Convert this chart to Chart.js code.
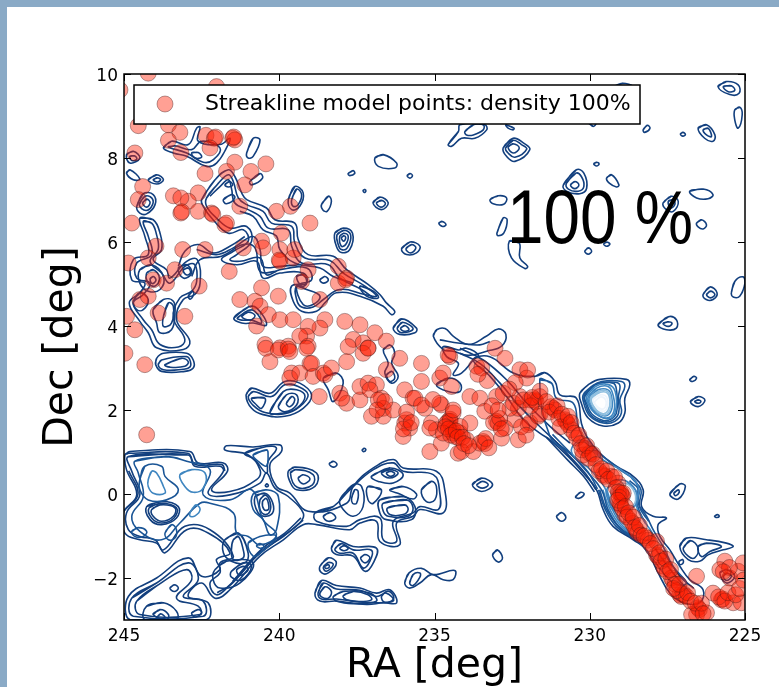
<!DOCTYPE html>
<html>
<head>
<meta charset="utf-8">
<title>Streakline model points</title>
<script src="https://cdn.jsdelivr.net/npm/chart.js@4"></script>
<style>
	html, body { margin: 0; padding: 0; background: #8aaac6; overflow: hidden; }
	#page { position: absolute; left: 7px; top: 7px; width: 772px; height: 680px; background: #fff; }
	#wrap { position: absolute; left: 0; top: 0; width: 779px; height: 687px; }
</style>
</head>
<body>
<div id="page"></div>
<div id="wrap"><canvas id="sky_chart" width="779" height="687"></canvas></div>
<script>
const ra_ticks = [245, 240, 235, 230, 225];
const dec_ticks = [-2, 0, 2, 4, 6, 8, 10];
const legend_label = "Streakline model points: density 100%";
const density_label = "100 %";
const x_title = "RA [deg]";
const y_title = "Dec [deg]";

// streakline model points, [RA, Dec]
const model_points = [
	[242.02,9.70],[244.22,10.02],[244.54,8.77],[243.57,8.79],[243.20,8.61],[243.57,8.42],[243.17,8.13],[242.36,8.54],[242.09,8.47],[242.05,8.50],
	[241.50,8.47],[241.43,8.43],[241.47,8.50],[242.23,8.24],[244.65,8.12],[241.43,7.90],[240.43,7.86],[242.39,7.63],[241.70,7.68],[240.91,7.68],
	[241.11,7.36],[244.40,7.32],[244.54,7.01],[243.41,7.10],[242.61,7.17],[242.93,6.97],[243.17,7.05],[243.17,6.69],[243.14,6.72],[242.61,6.73],
	[242.18,6.69],[242.14,6.66],[241.75,6.41],[241.70,6.45],[244.75,6.45],[241.27,6.85],[240.09,6.73],[239.64,6.85],[239.01,6.45],[239.93,6.21],
	[240.57,6.02],[243.11,5.82],[242.39,5.82],[243.97,5.90],[244.22,5.62],[244.86,5.50],[244.06,5.10],[243.36,5.34],[241.16,5.86],[239.98,5.82],
	[239.98,5.54],[240.00,5.57],[239.55,5.62],[239.50,5.82],[240.52,5.86],[241.61,5.30],[243.63,5.02],[242.58,4.95],[239.07,5.34],[239.28,5.06],
	[238.10,5.42],[238.10,5.02],[237.83,5.14],[237.86,5.10],[238.69,4.63],[240.57,4.91],[240.03,4.71],[241.27,4.63],[240.78,4.59],[240.62,4.47],
	[240.35,4.27],[239.98,4.15],[239.55,4.15],[240.73,4.00],[238.53,4.15],[238.69,3.95],[239.07,3.99],[239.12,3.76],[239.34,3.76],[237.89,4.11],
	[237.40,4.03],[236.92,3.84],[236.55,3.64],[243.04,4.23],[243.90,4.31],[244.49,4.63],[244.22,4.71],[244.92,4.23],[244.65,3.91],[240.46,3.56],
	[239.71,3.52],[239.98,3.48],[237.62,3.68],[237.30,3.60],[237.14,3.48],[239.07,3.52],[245.13,9.62],
	[244.97,3.35],[244.33,3.08],[244.27,1.41],[240.43,3.47],[240.30,3.15],[240.03,3.43],[239.71,3.45],[239.66,3.39],[239.12,3.47],[239.01,3.11],
	[238.96,3.11],[239.60,2.88],[239.66,2.76],[239.34,2.88],[238.91,2.80],[238.58,2.88],[238.53,2.84],[238.32,3.00],[238.71,2.32],[238.05,2.40],
	[237.83,2.16],[237.99,2.28],[237.40,2.24],[237.40,2.56],[237.14,2.64],[236.87,2.60],[237.08,2.48],[237.03,1.85],[236.71,2.28],[236.65,2.04],
	[236.65,1.85],[236.81,2.24],[236.33,2.00],[235.96,2.48],[235.69,2.28],[235.63,2.28],[235.42,3.11],[235.42,2.68],[234.83,2.76],[234.78,2.12],
	[235.31,2.04],[235.42,2.12],[235.96,1.69],[235.80,1.57],[236.01,1.37],[235.90,1.77],[235.10,1.69],[235.15,1.01],[234.78,1.21],[234.56,1.73],
	[234.50,1.78],[234.62,1.68],[234.40,1.93],[234.40,1.53],[234.51,3.27],[234.35,1.37],[234.24,0.97],[237.78,3.51],[237.30,3.35],[237.83,3.15],
	[237.14,3.47],[236.55,2.96],[236.12,3.23],[234.94,1.53],[235.15,1.57],
	[234.56,3.31],[234.72,2.88],[234.45,2.56],[233.86,2.32],[233.54,2.28],[233.05,3.47],[232.73,3.23],[233.64,3.04],[233.48,3.00],[232.25,2.96],
	[232.03,2.76],[233.00,2.32],[232.79,2.40],[233.00,1.73],[232.95,1.69],[232.73,1.57],[233.38,1.97],[232.41,1.77],[234.50,1.73],[234.72,1.45],
	[234.40,1.45],[234.18,1.45],[233.97,1.29],[234.13,1.01],[233.75,1.01],[233.43,1.25],[233.38,1.20],[233.54,1.21],[232.84,1.33],[232.30,1.29],
	[231.98,1.65],[231.93,1.70],[231.77,2.24],[231.73,2.20],[231.93,2.24],[232.30,2.04],[232.57,2.04],[231.66,1.85],[231.60,1.90],[231.18,2.04],
	[231.12,2.00],[231.25,2.08],[230.80,1.77],[230.75,1.72],[230.59,1.53],[230.69,1.65],[230.42,1.33],[230.16,1.09],[230.21,0.93],[230.00,0.97],
	[229.84,0.85],[229.57,0.46],[229.52,0.42],[229.30,0.42],[229.09,0.26],[228.98,-0.02],[228.95,-0.05],[229.00,0.03],[229.03,-0.22],[229.00,-0.27],
	[228.87,-0.49],[228.66,-0.65],[228.62,-0.70],[228.50,-0.85],[228.46,-0.92],[228.17,-1.05],[228.12,-1.10],[227.85,-1.13],[227.85,-1.45],[227.80,-1.50],
	[227.63,-1.72],[227.60,-1.78],[227.37,-2.00],[227.33,-2.05],[227.10,-2.40],[227.05,-2.44],[226.98,-2.38],[226.89,-2.44],[226.51,-2.71],[226.47,-2.75],
	[226.56,-2.87],[226.24,-2.83],[226.72,-2.87],[225.76,-2.52],[225.72,-2.50],[226.03,-2.36],[225.38,-2.59],[225.12,-2.59],[225.65,-1.60],[225.81,-1.80],
	[225.49,-2.00],[225.22,-1.84],[225.06,-1.64],[226.56,-1.96],[234.40,2.00],[234.83,2.16],[233.86,1.69],[234.18,1.61],[232.46,2.16],[232.25,2.32],
	[232.14,2.24],[231.61,2.32],
	[231.90,2.10],[231.85,2.30],[231.60,2.45],[231.40,2.20],[231.30,1.95],[231.05,2.10],[231.00,1.80],[230.90,1.90],[230.95,1.60],[230.70,1.85],
	[230.60,1.70],[230.50,1.45],[230.35,1.40],[230.30,1.20],[230.25,1.05],[230.10,1.15],[230.05,0.85],[229.90,0.95],[229.80,0.70],[229.70,0.55],
	[229.62,0.60],[229.45,0.55],[229.40,0.35],[229.20,0.40],[229.15,0.15],[229.08,0.05],[229.05,-0.08],[228.92,0.02],[229.10,-0.15],[228.95,-0.35],
	[228.85,-0.30],[228.80,-0.55],[228.75,-0.45],[228.60,-0.55],[228.55,-0.80],[228.40,-0.75],[228.35,-0.98],[228.25,-1.00],[228.05,-1.18],[227.95,-1.30],
	[227.75,-1.40],[227.70,-1.60],[227.55,-1.55],[227.50,-1.85],[227.40,-1.80],[227.25,-2.15],[227.20,-2.30],[227.30,-2.25],[227.12,-2.15],[226.85,-2.35],
	[226.75,-2.55],[226.60,-2.60],[226.40,-2.60],[226.35,-2.85],[225.85,-2.45],[225.65,-2.55],[225.55,-2.35],[225.30,-2.40],[225.18,-2.25],[225.05,-2.05],
	[225.50,-1.75],[225.70,-1.85],[234.65,1.60],[234.55,1.55],[234.48,1.40],[234.30,1.50],[234.25,1.35],[234.10,1.35],[234.05,1.20],[233.90,1.15],
	[233.35,1.32],[233.25,1.10],[233.10,1.70],[232.90,1.80],[232.85,1.55],[232.20,1.60],[232.05,1.40],[235.05,2.25],[235.90,1.95],[236.00,1.55],
	[235.75,1.70],[236.85,2.00],[236.60,2.20],[233.15,2.10],[232.95,2.00],[232.00,2.95],[232.40,2.65],[232.60,2.50],[233.30,2.70],[233.60,2.85]
];

// contour loops, flat RA,Dec lists, darkest level first
const contours_dark = [
	[225.87,9.70,225.60,9.82,225.22,9.74,225.19,9.54,225.49,9.51],
	[225.70,9.70,225.44,9.72,225.33,9.61,225.54,9.58],
	[225.33,9.15,225.17,9.21,225.09,9.03,225.22,8.71,225.33,8.91],
	[226.51,8.71,226.24,8.79,225.97,8.55,226.03,8.40,226.30,8.47],
	[226.35,8.67,226.19,8.71,226.08,8.51,226.24,8.55],
	[227.08,8.57,227.00,8.61,226.92,8.56,227.00,8.52],
	[228.28,8.67,228.15,8.78,228.06,8.71,228.23,8.61],
	[234.56,8.32,234.23,8.63,234.18,8.79,233.38,8.79,233.32,8.67,233.70,8.47,234.13,8.47,234.45,8.28],
	[234.02,8.63,233.75,8.79,233.43,8.79,233.43,8.67,233.75,8.55,233.97,8.55],
	[232.70,8.79,232.44,8.71,232.47,8.67,232.63,8.71],
	[230.02,8.83,229.89,8.75,229.80,8.83],
	[229.14,9.73,228.93,9.78,228.66,9.73],
	[232.79,8.24,232.47,8.47,232.14,8.36,231.93,8.20,232.41,7.92,232.68,8.04],
	[232.71,8.24,232.47,8.42,232.20,8.32,232.03,8.21,232.41,8.02,232.63,8.12],
	[232.63,8.26,232.47,8.34,232.27,8.24,232.47,8.12],
	[229.87,7.86,229.78,7.90,229.70,7.86,229.78,7.81],
	[230.85,7.36,230.43,7.72,230.19,7.64,230.10,7.28,230.32,7.15,230.75,7.21],
	[230.75,7.40,230.45,7.64,230.27,7.56,230.19,7.32,230.37,7.21,230.69,7.26],
	[230.62,7.36,230.48,7.44,230.35,7.36,230.48,7.27],
	[229.46,7.52,229.30,7.60,229.06,7.36,229.14,7.31,229.37,7.40],
	[233.21,7.01,232.95,7.10,232.68,7.05,232.77,6.90,233.11,6.91],
	[226.78,7.21,226.35,7.26,226.03,7.13,226.19,7.03,226.56,7.05],
	[227.64,6.93,227.37,7.09,227.15,6.97,227.31,6.73,227.53,6.77],
	[227.47,6.97,227.31,7.01,227.26,6.89,227.40,6.81],
	[226.56,6.45,226.40,6.53,226.24,6.41,226.35,6.31,226.51,6.36],
	[234.86,6.45,234.75,6.49,234.63,6.41,234.74,6.37],
	[232.99,6.21,232.79,6.57,232.66,6.53,232.77,6.21,232.95,6.15],
	[232.59,6.02,232.27,5.98,232.25,5.62,232.00,5.42,232.09,5.37,232.52,5.62],
	[230.16,5.78,230.05,5.86,229.94,5.78,230.05,5.71],
	[229.55,5.95,229.46,6.00,229.35,5.95,229.46,5.90],
	[225.44,4.79,225.33,5.06,225.06,5.17,225.00,5.02,225.17,4.71,225.38,4.69],
	[226.35,4.75,226.13,4.93,225.90,4.79,226.03,4.63,226.25,4.63],
	[226.24,4.75,226.11,4.83,225.97,4.75,226.11,4.67],
	[227.80,4.03,227.47,4.22,227.21,4.15,227.21,3.95,227.53,3.91],
	[227.64,4.06,227.47,4.10,227.35,4.06,227.47,3.99],
	[226.78,2.72,226.65,2.80,226.56,2.76,226.69,2.68],
	[226.76,2.20,226.51,2.32,226.29,2.23,226.51,2.08],
	[226.62,2.20,226.51,2.24,226.42,2.20,226.51,2.16],
	[227.42,0.00,227.10,0.24,226.92,0.18,227.15,-0.12],
	[227.29,0.02,227.15,0.10,227.12,0.04,227.23,-0.04],
	[225.98,-0.53,225.89,-0.49,225.83,-0.53,225.91,-0.56],
	[230.46,-0.07,230.30,0.04,230.18,0.00,230.34,-0.10],
	[231.07,-0.53,230.91,-0.44,230.77,-0.56,230.91,-0.65],
	[233.78,0.22,233.48,0.38,233.13,0.22,233.48,0.06],
	[233.64,0.22,233.46,0.30,233.27,0.22,233.46,0.14],
	[233.13,-1.45,232.98,-1.33,232.81,-1.52,232.95,-1.62],
	[235.96,-2.12,235.82,-1.88,235.42,-1.77,235.04,-1.92,234.35,-1.82,234.40,-2.04,234.72,-2.04,235.10,-1.92,235.47,-2.12,235.80,-2.24],
	[235.80,-2.12,235.69,-1.92,235.47,-1.88,235.47,-1.98,235.69,-2.18],
	[227.10,-1.25,226.89,-1.05,226.24,-1.09,225.60,-1.17,225.38,-1.25,225.70,-1.33,226.19,-1.45,226.46,-1.60,226.83,-1.56],
	[226.99,-1.29,226.76,-1.11,226.51,-1.29,226.62,-1.52,226.83,-1.48],
	[226.51,-1.25,226.24,-1.17,225.76,-1.25,226.13,-1.37,226.40,-1.49],
	[225.81,-1.88,225.60,-1.80,225.33,-1.96,225.60,-2.12],
	[225.70,-1.96,225.60,-1.88,225.44,-1.96,225.60,-2.06],
	[227.12,-1.60,227.01,-1.56,226.99,-1.64,227.10,-1.68],
	[243.73,8.24,243.47,8.40,242.93,8.32,242.66,8.71,242.55,8.74,242.61,8.40,241.91,8.32,241.59,8.47,241.70,8.24,242.02,7.88,242.34,7.80,242.98,8.04,243.41,8.12],
	[243.57,8.26,243.36,8.29,242.82,8.20,242.50,8.40,241.91,8.24,242.12,7.96,242.45,7.90,242.98,8.12],
	[242.82,8.12,242.61,8.13,242.50,8.02,242.71,8.00],
	[241.05,8.12,240.84,8.47,240.62,8.43,240.84,8.04,241.00,8.00],
	[236.92,8.00,236.65,8.08,236.22,7.88,236.28,7.76,236.81,7.80],
	[237.78,7.63,237.62,7.70,237.57,7.63,237.73,7.58],
	[235.88,7.58,235.79,7.63,235.71,7.58,235.79,7.52],
	[237.30,7.23,237.24,7.25,237.21,7.21,237.26,7.18],
	[236.98,6.93,236.76,7.07,236.49,6.93,236.71,6.77],
	[236.87,6.93,236.71,6.99,236.58,6.91,236.73,6.83],
	[238.64,6.89,238.42,7.09,238.32,6.97,238.46,6.73,238.60,6.77],
	[238.21,6.21,237.94,6.33,237.64,6.21,237.73,5.82,238.00,5.75,238.16,5.90],
	[238.14,6.17,237.92,6.28,237.70,6.17,237.81,5.86,238.00,5.82,238.10,5.94],
	[238.05,6.14,237.92,6.21,237.78,6.14,237.86,5.94,238.00,5.90],
	[238.00,6.10,237.92,6.15,237.86,6.10,237.92,6.02],
	[236.06,5.84,235.79,6.00,235.47,5.90,235.58,5.74,235.90,5.70],
	[235.92,5.84,235.74,5.94,235.60,5.86,235.77,5.74],
	[236.33,3.95,236.06,4.17,235.58,3.95,235.63,3.84,236.12,3.80],
	[236.20,3.95,236.03,4.09,235.69,3.93,236.06,3.84],
	[236.09,3.95,235.96,4.01,235.82,3.91,236.01,3.88],
	[244.92,8.08,244.70,8.16,244.49,8.00,244.81,7.88],
	[244.81,8.04,244.65,8.05,244.59,7.97,244.75,7.94],
	[244.92,7.64,244.81,7.72,244.49,7.50,244.70,7.48],
	[244.22,7.48,243.95,7.60,243.73,7.48,243.95,7.38],
	[244.06,7.48,243.93,7.53,243.82,7.48,243.93,7.43],
	[244.59,6.85,244.38,7.15,244.06,7.13,244.00,6.89,244.27,6.67,244.49,6.69],
	[244.51,6.89,244.33,7.09,244.11,7.05,244.08,6.89,244.29,6.75],
	[244.40,6.93,244.27,7.02,244.16,6.94,244.27,6.83],
	[244.49,6.57,244.06,6.53,243.84,6.21,243.79,5.82,244.06,5.58,243.63,5.34,243.52,5.14,242.98,5.54,242.64,5.58,242.55,5.02,242.72,4.75,243.09,4.63,243.31,4.15,242.88,3.64,243.09,3.44,243.95,3.48,244.22,3.84,244.49,4.11,244.83,4.55,244.49,4.79,244.33,5.02,244.75,5.10,244.70,5.58,244.22,5.70,244.33,6.14],
	[244.38,6.49,244.11,6.45,243.95,6.17,243.90,5.82,244.16,5.54,243.79,5.26,243.52,5.02,243.04,5.42,242.72,5.46,242.66,5.06,242.82,4.83,243.20,4.67,243.41,4.19,243.04,3.68,243.25,3.50,243.84,3.56,244.11,3.91,244.38,4.15,244.70,4.55,244.38,4.75,244.16,5.02,244.59,5.14,244.59,5.50,244.11,5.70,244.22,6.14],
	[244.49,5.34,244.11,5.46,243.73,5.18,243.84,4.87,244.22,4.83,244.49,5.02],
	[244.27,5.26,244.06,5.34,243.86,5.14,244.00,4.95,244.22,5.02],
	[244.16,5.12,244.06,5.18,243.97,5.09,244.09,5.01],
	[244.70,4.59,244.49,4.79,244.22,4.63,244.38,4.39,244.59,4.39],
	[244.06,4.39,243.73,4.63,243.41,4.59,243.36,4.31,243.47,3.91,243.84,3.84,243.95,4.07],
	[243.73,4.23,243.57,4.55,243.41,4.47,243.47,4.07,243.73,3.99],
	[242.93,4.71,242.79,4.83,242.75,4.77,242.86,4.64],
	[243.25,5.38,242.98,5.46,242.82,5.26,243.09,5.14],
	[243.09,5.34,242.93,5.38,242.86,5.26,243.00,5.22],
	[242.50,7.01,242.07,7.48,241.64,7.72,241.43,7.56,241.21,7.17,241.05,7.01,240.41,6.81,240.14,6.53,239.50,6.45,239.39,6.06,239.07,5.70,238.26,5.66,237.83,5.34,237.14,4.99,236.76,4.75,236.55,4.55,236.28,4.35,236.38,4.27,236.65,4.47,237.40,4.71,238.16,4.79,238.53,4.55,238.80,4.35,239.28,4.35,239.55,4.59,239.60,4.95,239.12,5.02,239.23,5.26,239.98,5.26,240.52,5.14,240.73,5.54,241.37,5.46,241.86,5.58,241.48,5.78,241.00,6.02,241.16,6.29,241.64,6.21,242.13,6.53,242.45,6.85],
	[242.34,7.05,241.96,7.40,241.64,7.60,241.48,7.44,241.32,7.05,241.05,6.89,240.52,6.73,240.25,6.45,239.60,6.37,239.50,5.98,239.17,5.62,238.37,5.56,237.94,5.26,237.24,4.95,236.87,4.71,237.24,4.75,238.05,4.87,238.58,4.63,238.91,4.45,239.28,4.45,239.44,4.63,239.44,4.95,238.96,5.10,239.12,5.38,239.98,5.34,240.41,5.22,240.62,5.62,241.27,5.54,241.59,5.58,241.37,5.70,240.89,6.02,241.05,6.37,241.59,6.33,242.02,6.57,242.34,6.85],
	[238.69,5.10,238.53,5.18,238.42,5.09,238.58,5.02],
	[239.44,5.18,239.23,5.22,239.12,5.02,239.28,4.95],
	[241.80,7.01,241.54,7.13,241.43,7.05,241.70,6.91],
	[241.75,7.36,241.61,7.44,241.50,7.36,241.64,7.31],
	[239.44,4.95,239.12,4.87,238.69,4.71,238.91,4.51,239.23,4.51],
	[239.71,7.01,239.50,7.32,239.23,7.17,239.34,6.85,239.60,6.77],
	[239.60,7.01,239.44,7.26,239.28,7.13,239.39,6.89,239.55,6.85],
	[240.95,7.44,240.62,7.63,240.54,7.52,240.89,7.36],
	[237.40,4.95,236.97,4.83,236.81,4.67,237.19,4.71],
	[241.46,4.19,241.00,4.45,240.73,4.43,240.41,4.03,240.84,4.07,241.21,4.07],
	[241.35,4.19,241.00,4.37,240.78,4.35,240.57,4.07,240.89,4.14,241.21,4.14],
	[241.21,4.23,241.00,4.33,240.78,4.25,240.95,4.14],
	[243.98,3.08,243.95,3.23,243.73,3.35,242.98,3.35,242.77,3.19,242.77,3.00,243.04,2.92,243.79,2.92],
	[243.90,3.08,243.79,3.19,242.98,3.27,242.86,3.15,242.88,3.02,243.09,2.97,243.73,2.96],
	[243.68,3.08,243.15,3.23,242.93,3.15,243.04,3.04,243.52,3.02],
	[241.07,2.36,240.89,2.52,240.30,2.40,239.82,2.68,239.34,2.64,238.96,2.36,239.23,2.04,239.82,1.85,240.52,1.89,240.89,2.04],
	[241.00,2.32,240.84,2.44,240.25,2.32,239.82,2.60,239.39,2.56,239.07,2.36,239.34,2.08,239.82,1.91,240.46,1.94,240.84,2.11],
	[240.89,2.28,240.46,2.28,240.57,2.04,240.73,2.12],
	[240.30,1.94,239.87,2.44,239.44,2.48,239.17,2.32,239.44,2.04,239.87,1.93],
	[240.03,2.08,239.77,2.36,239.44,2.36,239.44,2.12,239.82,1.96],
	[239.77,2.16,239.60,2.32,239.50,2.24,239.66,2.08],
	[238.58,2.76,238.16,2.88,237.94,2.64,238.26,2.20,238.42,2.48],
	[236.65,3.43,236.44,3.55,236.28,3.35,236.38,3.11,236.17,2.80,236.38,2.64,236.60,2.88,236.49,3.11],
	[236.54,2.84,236.38,2.92,236.28,2.76,236.44,2.68],
	[234.94,2.60,234.56,2.76,234.18,2.64,234.18,2.44,234.56,2.44],
	[234.72,3.51,234.23,3.43,233.97,3.47,233.59,3.31,233.75,3.19,234.13,2.88,234.40,2.84,234.23,3.11,234.61,3.27],
	[235.04,3.76,234.93,3.91,234.66,3.94,234.40,3.76,233.91,3.56,233.32,3.76,232.95,3.93,232.70,3.80,232.84,3.52,233.32,3.40,233.91,3.30,234.40,3.40,234.72,3.44],
	[244.97,0.93,244.81,1.01,242.88,1.01,242.61,0.74,241.80,0.74,241.67,0.54,242.18,0.10,241.59,0.06,240.73,0.34,240.62,0.58,241.00,0.93,241.75,1.05,241.70,1.15,240.84,1.12,239.98,1.17,239.93,1.01,240.30,0.70,240.09,0.18,239.66,0.02,239.07,-0.41,237.83,-0.22,237.62,0.18,236.97,0.62,236.33,0.82,236.01,0.62,234.94,0.54,234.67,0.10,234.72,-0.45,235.47,-0.37,235.69,-0.53,236.22,-0.69,236.12,-1.21,236.76,-1.13,236.87,-0.65,237.40,-0.69,237.73,-0.85,238.80,-0.73,239.23,-0.73,239.87,-1.09,240.62,-1.48,241.59,-2.28,242.07,-2.48,242.50,-2.12,242.93,-2.44,242.29,-2.59,242.34,-2.99,244.81,-2.99,244.86,-2.44,243.95,-2.00,242.93,-1.52,242.50,-1.96,241.91,-1.80,242.02,-1.56,241.59,-1.40,242.29,-0.93,242.98,-0.85,243.68,-1.40,243.95,-1.17,244.49,-1.09,244.97,-0.93,245.02,-0.45,244.59,-0.02,244.92,0.58],
	[244.86,0.89,242.93,0.93,242.72,0.66,241.91,0.66,241.80,0.54,242.29,0.02,241.59,-0.02,240.62,0.26,240.41,0.50,240.14,0.14,239.71,-0.06,239.23,-0.45,239.34,-0.69,239.98,-1.05,240.73,-1.48,241.64,-2.20,242.02,-2.40,242.23,-2.12,241.91,-1.88,241.91,-1.64,241.48,-1.48,242.23,-0.85,243.04,-0.77,243.73,-1.33,244.00,-1.09,244.49,-1.01,244.86,-0.85,244.92,-0.45,244.49,-0.02,244.75,0.54],
	[244.11,-0.37,243.84,-0.26,243.36,-0.33,243.41,-0.53,243.79,-0.65,244.06,-0.53],
	[244.27,-0.30,243.79,-0.18,243.25,-0.30,243.31,-0.57,243.79,-0.73,244.16,-0.61],
	[244.19,-0.33,243.82,-0.22,243.31,-0.33,243.39,-0.57,243.79,-0.69,244.11,-0.57],
	[240.62,-0.14,240.46,-0.02,240.30,-0.18,240.30,-0.41,240.46,-0.49,240.62,-0.37],
	[240.78,-0.06,240.46,0.02,240.25,-0.14,240.19,-0.41,240.41,-0.53,240.68,-0.45],
	[240.54,-0.18,240.43,-0.10,240.35,-0.22,240.35,-0.37,240.49,-0.37],
	[240.45,0.20,240.40,0.24,240.35,0.20,240.40,0.17],
	[241.11,0.97,240.41,1.13,240.09,1.09,240.36,0.78,240.41,0.50,240.78,0.81],
	[241.48,-1.09,241.32,-1.01,241.16,-1.33,241.16,-1.52,241.48,-1.56,241.54,-1.33],
	[241.75,-1.09,241.32,-0.93,241.00,-1.41,241.11,-1.64,241.54,-1.60,241.80,-1.40],
	[241.37,-1.80,241.16,-1.72,241.00,-1.80,241.27,-1.94],
	[241.54,-1.84,241.16,-1.64,240.89,-1.72,241.21,-2.04,241.54,-1.98],
	[242.07,-1.80,241.70,-1.60,240.84,-1.64,241.27,-2.12,241.91,-2.24,242.13,-2.04],
	[244.75,-2.48,243.95,-2.12,242.93,-1.64,242.61,-2.04,243.09,-2.44,242.45,-2.55,242.45,-2.91,244.70,-2.91],
	[244.59,-2.55,243.73,-2.08,242.98,-1.80,242.82,-2.04,243.31,-2.48,242.61,-2.67,242.55,-2.87,244.49,-2.87],
	[243.52,-2.24,243.38,-2.16,243.25,-2.24,243.38,-2.32],
	[244.06,-2.87,243.84,-2.75,243.57,-2.87,243.63,-2.99],
	[243.95,-2.95,243.82,-2.85,243.68,-2.95],
	[242.82,-2.83,242.61,-2.75,242.50,-2.83,242.71,-2.93],
	[244.27,-2.67,243.73,-2.59,243.31,-2.79,243.31,-2.99,244.33,-2.99],
	[239.71,0.54,239.50,0.64,238.80,0.50,238.85,0.18,239.44,0.10,239.66,0.30],
	[239.64,0.50,239.47,0.58,238.91,0.46,238.93,0.22,239.42,0.16],
	[239.39,0.38,239.23,0.46,239.01,0.36,239.23,0.24],
	[238.39,0.72,238.26,0.78,238.14,0.70,238.26,0.64],
	[237.33,1.05,237.26,1.09,237.21,1.05,237.28,1.01],
	[238.85,-0.45,238.26,-0.30,237.73,0.10,236.97,0.58,236.33,0.74,236.01,0.54,235.04,0.46,234.83,0.02,234.88,-0.37,235.47,-0.30,235.69,-0.45,236.33,-0.65,236.22,-1.13,236.65,-1.09,236.76,-0.57,237.40,-0.61,237.83,-0.77,238.80,-0.65],
	[238.58,-0.53,238.37,-0.44,238.18,-0.57,238.42,-0.65],
	[238.05,-0.14,237.62,0.22,237.35,0.18,237.30,-0.30,237.62,-0.53,237.94,-0.37],
	[237.67,-0.10,237.57,0.10,237.46,0.06,237.51,-0.22,237.64,-0.22],
	[237.03,0.42,236.44,0.62,236.01,0.46,236.33,0.26,236.81,0.30],
	[236.71,0.50,236.44,0.58,236.17,0.50,236.44,0.38],
	[236.55,0.50,236.42,0.54,236.28,0.48,236.42,0.42],
	[235.42,0.10,235.10,0.30,234.94,0.18,234.99,-0.14,235.26,-0.18],
	[236.44,0.10,236.01,0.18,235.58,0.00,235.69,-0.12,236.12,0.00],
	[236.76,-0.14,236.01,-0.06,235.63,-0.30,235.74,-0.61,236.55,-0.61,236.76,-0.45],
	[236.65,-0.22,235.90,-0.14,235.69,-0.33,235.85,-0.53,236.49,-0.53,236.65,-0.41],
	[236.51,-0.33,235.96,-0.26,235.85,-0.37,236.01,-0.49,236.44,-0.49],
	[237.14,0.18,236.71,0.10,236.97,-0.22,237.14,-0.14],
	[238.32,-1.29,238.16,-1.10,237.62,-1.25,236.87,-1.29,236.97,-1.64,237.24,-1.84,237.62,-1.48,238.16,-1.44],
	[238.21,-1.31,238.00,-1.18,237.62,-1.33,237.03,-1.34,237.08,-1.60,237.30,-1.76,237.62,-1.41,238.05,-1.41],
	[238.05,-1.29,237.92,-1.23,237.78,-1.30,237.92,-1.35],
	[237.38,-1.52,237.24,-1.44,237.08,-1.52,237.24,-1.64],
	[238.69,-1.72,238.42,-1.52,238.16,-1.64,238.42,-1.88,238.63,-1.88],
	[238.58,-1.74,238.42,-1.63,238.26,-1.68,238.48,-1.84],
	[238.53,-1.72,238.42,-1.68,238.39,-1.74,238.50,-1.77],
	[238.85,-2.36,238.64,-2.06,238.16,-2.18,237.40,-2.24,236.87,-2.36,236.44,-2.28,236.22,-2.59,236.65,-2.59,237.19,-2.63,238.16,-2.55,238.69,-2.55],
	[238.75,-2.36,238.58,-2.12,238.16,-2.26,237.40,-2.29,236.87,-2.44,236.55,-2.36,236.33,-2.55,237.19,-2.58,238.16,-2.50,238.64,-2.50],
	[238.69,-2.36,238.53,-2.21,238.32,-2.32,238.42,-2.48,238.64,-2.45],
	[237.94,-2.42,237.62,-2.32,237.14,-2.40,237.03,-2.52,237.51,-2.56,237.83,-2.52],
	[238.26,-2.44,237.94,-2.32,237.08,-2.36,236.87,-2.55,237.62,-2.61,238.16,-2.55],
	[236.71,-2.44,236.55,-2.32,236.38,-2.36,236.33,-2.51,236.60,-2.58],
	[231.77,2.80,231.45,2.89,231.12,2.68,230.96,2.36,230.43,2.28,230.27,1.69,230.10,1.37,229.67,0.97,229.14,0.66,228.60,0.42,228.28,0.10,228.33,-0.30,227.96,-0.53,227.53,-0.57,227.80,-0.73,227.74,-1.01,227.42,-1.33,227.10,-1.72,226.78,-2.04,226.35,-2.28,226.46,-2.59,226.99,-2.59,227.42,-2.36,227.85,-1.80,228.17,-1.33,228.60,-1.09,229.25,-0.77,229.57,-0.37,229.78,0.10,230.21,0.50,230.69,0.89,231.28,1.29,231.61,1.45,232.14,1.77,232.68,2.32,233.21,2.80,233.75,3.19,233.22,3.27,232.46,2.88],
	[230.32,2.40,230.05,2.60,229.67,2.73,228.82,2.73,228.71,2.60,228.87,2.28,228.87,1.93,229.08,1.69,229.57,1.62,230.05,1.81,230.27,2.16]
];
const contours_mid = [
	[244.65,0.78,243.63,0.89,242.98,0.78,242.23,0.58,242.45,-0.02,241.59,-0.14,240.89,0.10,240.52,-0.61,240.09,-0.97,240.62,-1.21,241.00,-1.01,241.37,-0.93,241.48,-0.45,242.23,-0.22,242.55,-0.22,243.20,-0.69,243.79,-1.09,244.49,-0.89,244.75,-0.53,244.38,-0.06,244.54,0.50],
	[244.49,0.34,244.33,0.66,243.79,0.66,243.68,0.42,243.25,0.10,243.63,-0.14,244.22,-0.14,244.49,0.10],
	[244.75,-0.89,244.54,-0.80,244.27,-0.89,244.38,-1.01,244.65,-1.01],
	[243.68,-0.93,243.47,-0.73,243.31,-0.85,243.36,-1.05,243.57,-1.09],
	[240.84,0.00,240.41,0.10,240.03,-0.06,240.09,-0.85,240.30,-0.97,240.52,-0.61,240.84,-0.37],
	[240.84,0.93,240.41,1.05,240.36,0.93,240.41,0.67,240.62,0.74],
	[241.00,-1.17,240.62,-1.01,240.09,-1.01,240.62,-1.41,240.84,-1.48],
	[240.73,-1.23,240.62,-1.18,240.49,-1.25,240.62,-1.29],
	[231.61,2.72,231.23,2.64,231.07,2.28,230.53,2.16,230.37,1.61,230.10,1.21,229.57,0.89,229.03,0.58,228.49,0.26,228.44,-0.22,228.17,-0.53,227.96,-0.85,227.64,-1.25,227.32,-1.72,226.89,-2.12,227.31,-2.12,227.96,-1.56,228.39,-1.17,229.03,-0.81,229.41,-0.37,229.62,0.10,230.10,0.54,230.64,0.97,231.28,1.37],
	[230.21,2.36,229.94,2.56,229.62,2.68,228.98,2.68,228.87,2.56,229.03,2.24,228.98,1.93,229.19,1.73,229.57,1.69,230.00,1.86,230.19,2.16],
	[230.18,2.34,229.88,2.58,229.45,2.66,229.05,2.62,229.08,2.30,229.07,1.93,229.27,1.75,229.57,1.72,229.97,1.88,230.14,2.16],
	[230.16,2.32,229.83,2.60,229.25,2.64,229.14,2.48,229.14,1.93,229.35,1.77,229.57,1.75,229.94,1.91,230.10,2.16]
];
const contours_light = [
	[244.22,0.34,244.11,0.54,243.95,0.50,243.73,0.18,243.68,0.02,244.06,0.02,244.22,0.18],
	[243.20,0.46,242.82,0.58,242.39,0.50,242.45,0.14,242.77,0.04,243.04,0.18],
	[242.82,-0.37,242.68,-0.26,242.55,-0.37,242.71,-0.52,242.88,-0.52],
	[230.21,1.29,229.57,0.81,228.92,0.54,228.44,0.18,228.49,-0.30,228.28,-0.61,227.96,-1.01,228.28,-1.09,228.92,-0.77,229.30,-0.33,229.51,0.14,229.99,0.58,230.59,1.01],
	[230.10,2.32,229.82,2.56,229.42,2.61,229.18,2.44,229.18,1.95,229.40,1.79,229.83,1.92,230.06,2.16],
	[230.05,2.31,229.78,2.52,229.41,2.56,229.25,2.36,229.22,1.97,229.46,1.81,229.83,1.94,230.02,2.16],
	[230.00,2.31,229.73,2.48,229.41,2.48,229.30,2.32,229.30,2.00,229.51,1.86,229.83,1.99,229.97,2.16],
	[229.46,0.10,229.14,0.34,228.60,0.18,228.49,-0.22,228.82,-0.37,229.25,-0.37,229.41,-0.14]
];
const contours_pale = [
	[229.97,2.30,229.70,2.45,229.42,2.44,229.32,2.26,229.35,2.00,229.54,1.88,229.83,2.01,229.95,2.16],
	[229.94,2.28,229.67,2.42,229.43,2.40,229.35,2.20,229.41,1.99,229.57,1.91,229.83,2.04],
	[229.30,0.06,228.98,0.26,228.60,0.10,228.55,-0.22,228.82,-0.33,229.19,-0.29]
];
const contours_white = [
	[229.89,2.26,229.65,2.36,229.46,2.31,229.43,2.08,229.57,1.97,229.78,2.08],
	[229.84,2.20,229.65,2.31,229.49,2.24,229.49,2.08,229.62,2.02,229.78,2.10]
];

// contour pieces that are not drawn as closed loops
const contour_lines = [
	[242.23,7.09,241.91,7.32,241.64,7.48,241.54,7.28,241.43,6.93,241.00,6.77,240.62,6.61,240.35,6.33,239.71,6.29,239.60,5.90,239.28,5.50,238.42,5.46,238.05,5.14,237.35,4.87,236.97,4.67],
	[241.27,6.73,240.84,6.61,240.52,6.29,240.09,6.14,239.98,5.82,239.50,5.50,238.69,5.38,238.26,5.18,237.62,5.02],
	[242.66,5.82,242.02,5.70,241.48,5.86,240.84,6.13,240.62,5.82,240.52,5.42,239.98,5.42,239.34,5.46],
	[243.25,5.42,243.04,5.78,242.61,5.94,242.13,5.74,241.59,5.90,241.11,6.13],
	[242.82,5.18,242.55,5.58,241.86,5.66,241.16,5.94,240.78,5.86,240.62,5.30,240.09,5.30],
	[234.18,3.35,233.54,3.11,232.89,2.64,232.25,2.08,231.50,1.53,230.85,1.09,230.32,0.78],
	[234.18,3.47,233.43,3.19,232.68,2.72,232.03,2.16,231.28,1.61,230.64,1.21],
	[234.83,3.67,234.18,3.59,233.54,3.55,233.22,3.63],
	[231.40,1.35,230.70,0.80,230.20,0.42,229.85,0.05],
	[231.30,1.40,230.60,0.86,230.12,0.47,229.80,0.10],
	[227.90,-1.30,227.30,-1.90,226.70,-2.40],
	[227.65,-1.35,227.10,-1.95,226.65,-2.25],
	[239.23,-0.62,239.85,-1.00,240.60,-1.38,241.55,-2.15,242.00,-2.35],
	[239.30,-0.57,239.82,-0.93,240.55,-1.30,241.50,-2.08],
	[244.92,0.95,244.85,0.97,242.95,0.97,242.70,0.70,241.85,0.70,241.75,0.55],
	[245.00,-0.40,244.55,0.00,244.85,0.55]
];
const contour_lines_mid = [
	[229.72,0.10,229.50,-0.37,229.15,-0.77,228.50,-1.12],
	[229.68,0.10,229.47,-0.35,229.10,-0.75,228.45,-1.10],
	[228.65,0.38,228.35,0.10,228.40,-0.30,228.10,-0.65],
	[228.72,0.32,228.42,0.10,228.46,-0.28,228.20,-0.70],
	[231.20,1.42,230.55,0.92,230.05,0.52,229.75,0.12]
];
const contour_lines_light = [
	[229.58,0.10,229.36,-0.35,228.98,-0.78,228.35,-1.13],
	[229.46,0.12,229.22,-0.38,228.90,-0.72],
	[228.80,0.28,228.52,0.08,228.52,-0.25]
];

const level_colors = ["#123f7e", "#1a5596", "#3f86c0", "#8fbfdf", "#eef5fc"];
const contour_levels = [contours_dark, contours_mid, contours_light, contours_pale, contours_white];

function to_points(flat_path, closed) {
	let points = [];
	for (let i = 0; i < flat_path.length; i += 2) {
		points.push({ x: flat_path[i], y: flat_path[i + 1] });
	}
	if (closed) {
		points.push(points[0], points[1]);
	}
	return points;
}

function line_dataset(flat_path, color, closed) {
	return {
		data: to_points(flat_path, closed),
		showLine: true,
		borderColor: color,
		borderWidth: 1.6,
		tension: 0.42,
		pointRadius: 0,
		fill: false,
		clip: 0,
	};
}

let datasets = [
	{
		label: legend_label,
		data: model_points.map((p) => ({ x: p[0], y: p[1] })),
		showLine: false,
		pointRadius: 8,
		pointBackgroundColor: "rgba(255, 28, 0, 0.42)",
		pointBorderColor: "rgba(60, 20, 20, 0.38)",
		pointBorderWidth: 1,
		clip: 0,
	},
];

for (let level = contour_levels.length - 1; level >= 0; level--) {
	contour_levels[level].forEach((path) => {
		datasets.push(line_dataset(path, level_colors[level], true));
	});
}
contour_lines.forEach((path) => {
	datasets.push(line_dataset(path, level_colors[0], false));
});
contour_lines_mid.forEach((path) => {
	datasets.push(line_dataset(path, level_colors[1], false));
});
contour_lines_light.forEach((path) => {
	datasets.push(line_dataset(path, level_colors[2], false));
});

const axes_frame = {
	id: "axes_frame",
	afterDatasetsDraw(chart) {
		const { ctx, chartArea: area, scales } = chart;
		ctx.save();

		// label and legend sit above the marks
		ctx.fillStyle = "#000";
		ctx.font = '76px "Liberation Sans"';
		ctx.textAlign = "left";
		ctx.textBaseline = "alphabetic";
		ctx.fillText(density_label, area.left + 383, area.top + 169, 186);

		ctx.fillStyle = "#fff";
		ctx.strokeStyle = "#000";
		ctx.lineWidth = 1.5;
		ctx.fillRect(area.left + 10, area.top + 11, 506, 39);
		ctx.strokeRect(area.left + 10, area.top + 11, 506, 39);
		ctx.beginPath();
		ctx.arc(area.left + 41, area.top + 30, 8, 0, Math.PI * 2);
		ctx.fillStyle = "rgba(255, 28, 0, 0.42)";
		ctx.fill();
		ctx.strokeStyle = "rgba(60, 20, 20, 0.38)";
		ctx.lineWidth = 1;
		ctx.stroke();
		ctx.fillStyle = "#000";
		ctx.font = '22px "DejaVu Sans"';
		ctx.textBaseline = "middle";
		ctx.fillText(legend_label, area.left + 81, area.top + 30);

		// inward ticks on all four sides, and the frame
		ctx.strokeStyle = "#000";
		ctx.lineWidth = 1;
		ctx.beginPath();
		ra_ticks.forEach((v) => {
			const x = Math.round(scales.x.getPixelForValue(v)) + 0.5;
			ctx.moveTo(x, area.top);
			ctx.lineTo(x, area.top + 7);
			ctx.moveTo(x, area.bottom);
			ctx.lineTo(x, area.bottom - 7);
		});
		dec_ticks.forEach((v) => {
			const y = Math.round(scales.y.getPixelForValue(v)) + 0.5;
			ctx.moveTo(area.left, y);
			ctx.lineTo(area.left + 7, y);
			ctx.moveTo(area.right, y);
			ctx.lineTo(area.right - 7, y);
		});
		ctx.stroke();
		ctx.lineWidth = 1.5;
		ctx.strokeRect(area.left, area.top, area.right - area.left, area.bottom - area.top);
		ctx.restore();
	},
};

new Chart(document.getElementById("sky_chart").getContext("2d"), {
	type: "scatter",
	data: { datasets: datasets },
	plugins: [axes_frame],
	options: {
		responsive: false,
		animation: false,
		events: [],
		layout: { padding: { top: 74, right: 34, left: 0, bottom: 0 } },
		plugins: { legend: { display: false }, tooltip: { enabled: false } },
		scales: {
			x: {
				type: "linear",
				reverse: true,
				min: 225,
				max: 245,
				afterBuildTicks: (scale) => {
					scale.ticks = ra_ticks.map((v) => ({ value: v }));
				},
				afterFit: (scale) => {
					scale.height = 67;
				},
				grid: { display: false, tickLength: 0 },
				border: { display: false },
				ticks: {
					color: "#000",
					padding: 6,
					maxRotation: 0,
					font: { family: "DejaVu Sans", size: 17 },
					callback: (v) => String(v),
				},
				title: {
					display: true,
					text: x_title,
					color: "#000",
					font: { family: "DejaVu Sans", size: 41, lineHeight: 1 },
					padding: { top: 0, bottom: 0 },
				},
			},
			y: {
				type: "linear",
				min: -3,
				max: 10,
				afterBuildTicks: (scale) => {
					scale.ticks = dec_ticks.map((v) => ({ value: v }));
				},
				afterFit: (scale) => {
					scale.width = 124;
				},
				grid: { display: false, tickLength: 0 },
				border: { display: false },
				ticks: {
					color: "#000",
					padding: 6,
					labelOffset: 3,
					font: { family: "DejaVu Sans", size: 17 },
					callback: (v) => (v < 0 ? "\u2212" + Math.abs(v) : String(v)),
				},
				title: {
					display: true,
					text: y_title,
					color: "#000",
					font: { family: "DejaVu Sans", size: 41, lineHeight: 1 },
					padding: { top: 41, bottom: 0 },
				},
			},
		},
	},
});
</script>
</body>
</html>
